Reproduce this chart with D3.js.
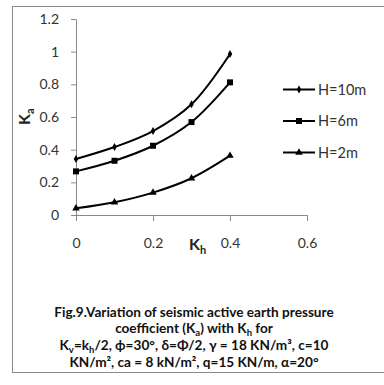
<!DOCTYPE html>
<html>
<head>
<meta charset="utf-8">
<script src="https://cdn.jsdelivr.net/npm/d3@7.9.0/dist/d3.min.js"></script>
<style>
  html, body { margin: 0; padding: 0; background: #fff; }
  svg { display: block; font-family: Lato, "Liberation Sans", sans-serif; }
</style>
</head>
<body>
<svg id="chart" width="384" height="385"></svg>
<script>
// values
const kh = [0, 0.1, 0.2, 0.3, 0.4];
const kaH10 = [0.343, 0.416, 0.514, 0.678, 0.986];
const kaH6 = [0.267, 0.332, 0.424, 0.569, 0.812];
const kaH2 = [0.041, 0.078, 0.137, 0.225, 0.363];
const seriesNames = ["H=10m", "H=6m", "H=2m"];
const xTicks = [0, 0.2, 0.4, 0.6];
const yTicks = [0, 0.2, 0.4, 0.6, 0.8, 1, 1.2];

const svg = d3.select("#chart");

// outer frame (right side runs past the picture)
svg.append("rect")
  .attr("x", 12.5).attr("y", 6.5)
  .attr("width", 400).attr("height", 366)
  .attr("fill", "none").attr("stroke", "#8a8a8a");

const x = d3.scaleLinear().domain([0, 0.6]).range([76, 307]);
const y = d3.scaleLinear().domain([0, 1.2]).range([215, 19]);

const yAxis = svg.append("g")
  .attr("transform", "translate(76,0)")
  .call(d3.axisLeft(y).tickValues(yTicks).tickSize(5).tickPadding(12)
    .tickFormat(d3.format("~g")));

const xAxis = svg.append("g")
  .attr("transform", "translate(0,215)")
  .call(d3.axisBottom(x).tickValues(xTicks).tickSize(6).tickPadding(17)
    .tickFormat(d3.format("~g")));

[xAxis, yAxis].forEach((g) => {
  g.select(".domain").attr("stroke", "#8a8a8a");
  g.selectAll(".tick line").attr("stroke", "#8a8a8a");
  g.selectAll(".tick text")
    .attr("fill", "#333")
    .style("font-size", "14px")
    .style("font-family", "Lato, 'Liberation Sans', sans-serif");
});

const series = [
  { name: seriesNames[0], values: kaH10, symbol: d3.symbolDiamond, size: 18 },
  { name: seriesNames[1], values: kaH6, symbol: d3.symbolSquare, size: 36 },
  { name: seriesNames[2], values: kaH2, symbol: d3.symbolTriangle, size: 24 },
];

const line = d3.line()
  .x((d) => x(d[0]))
  .y((d) => y(d[1]))
  .curve(d3.curveCatmullRom.alpha(0.5));

series.forEach((s) => {
  const pts = kh.map((k, i) => [k, s.values[i]]);
  svg.append("path")
    .attr("d", line(pts))
    .attr("fill", "none")
    .attr("stroke", "#000")
    .attr("stroke-width", 2);
  svg.selectAll(null)
    .data(pts)
    .enter()
    .append("path")
    .attr("d", d3.symbol().type(s.symbol).size(s.size))
    .attr("transform", (d) => `translate(${x(d[0])},${y(d[1])})`)
    .attr("fill", "#000");
});

// legend
const legend = svg.append("g");
series.forEach((s, i) => {
  const ly = 89.5 + i * 31.5;
  legend.append("line")
    .attr("x1", 283).attr("x2", 315)
    .attr("y1", ly).attr("y2", ly)
    .attr("stroke", "#000").attr("stroke-width", 2);
  legend.append("path")
    .attr("d", d3.symbol().type(s.symbol).size(s.size))
    .attr("transform", `translate(299,${ly})`);
  legend.append("text")
    .attr("x", 318).attr("y", ly + 5)
    .attr("fill", "#333")
    .style("font-size", "14.5px")
    .text(s.name);
});

// axis titles
const yTitle = svg.append("text")
  .attr("transform", "translate(30,125) rotate(-90)")
  .style("font-size", "16px").style("font-weight", "bold")
  .attr("fill", "#222");
yTitle.append("tspan").text("K");
yTitle.append("tspan").attr("dy", 4).style("font-size", "11px").text("a");

const xTitle = svg.append("text")
  .attr("x", 189).attr("y", 250)
  .style("font-size", "16px").style("font-weight", "bold")
  .attr("fill", "#222");
xTitle.append("tspan").text("K");
xTitle.append("tspan").attr("dy", 4).style("font-size", "11px").text("h");

// caption
const caption = svg.append("g")
  .attr("text-anchor", "middle")
  .style("font-size", "13.6px")
  .style("font-weight", "bold")
  .style("white-space", "pre")
  .attr("fill", "#111");

function capLine(yPos, parts) {
  const t = caption.append("text").attr("x", 194).attr("y", yPos);
  let shift = 0;
  parts.forEach((p) => {
    const sub = typeof p !== "string";
    const target = sub ? 3 : 0;
    t.append("tspan")
      .attr("dy", target - shift)
      .style("font-size", sub ? "9.5px" : null)
      .text(sub ? p.sub : p);
    shift = target;
  });
}

capLine(317, ["Fig.9.Variation of seismic active earth pressure"]);
capLine(333, ["coefficient  (K", { sub: "a" }, ") with K", { sub: "h" }, " for"]);
capLine(350, ["K", { sub: "v" }, "=k", { sub: "h" }, "/2, \u03d5=30\u00b0, \u03b4=\u03a6/2, \u03b3 = 18 KN/m\u00b3, c=10"]);
capLine(367, ["KN/m\u00b2, ca = 8 kN/m\u00b2, q=15 KN/m, \u03b1=20\u00b0"]);
</script>
</body>
</html>
